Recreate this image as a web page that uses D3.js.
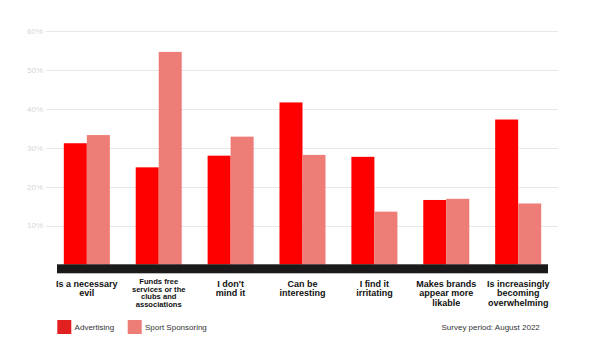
<!DOCTYPE html>
<html>
<head>
<meta charset="utf-8">
<script src="https://cdn.jsdelivr.net/npm/d3@7"></script>
<style>
  html, body { margin: 0; padding: 0; background: #fff; }
  svg { display: block; font-family: "Liberation Sans", Arial, Helvetica, sans-serif; }
</style>
</head>
<body>
<svg id="chart" width="605" height="340"></svg>
<script>
const categories = [
  ["Is a necessary", "evil"],
  ["Funds free", "services or the", "clubs and", "associations"],
  ["I don't", "mind it"],
  ["Can be", "interesting"],
  ["I find it", "irritating"],
  ["Makes brands", "appear more", "likable"],
  ["Is increasingly", "becoming", "overwhelming"]
];
const seriesNames = ["Advertising", "Sport Sponsoring"];
const advertising = [31.2, 25.0, 28.0, 41.7, 27.7, 16.6, 37.3];
const sponsoring  = [33.3, 54.7, 32.9, 28.2, 13.6, 16.9, 15.7];
const yTicks = [10, 20, 30, 40, 50, 60];
const note = "Survey period: August 2022";

const barColors = ["#ff0000", "#ee7d77"];
const legendColors = ["#e2201f", "#ee7d77"];

const svg = d3.select("#chart");
const x = d3.scaleBand().domain(d3.range(categories.length)).range([57, 548]).paddingInner(0.36).paddingOuter(0.095);
const xs = d3.scaleBand().domain([0, 1]).range([0, x.bandwidth()]);
const y = d3.scaleLinear().domain([0, 60]).range([264.5, 31.3]);

// gridlines
const grid = svg.append("g");
yTicks.forEach(t => {
  grid.append("line").attr("x1", 46).attr("x2", 558)
    .attr("y1", Math.round(y(t)) + 0.5).attr("y2", Math.round(y(t)) + 0.5)
    .attr("stroke", "#e8e8e8").attr("stroke-width", 1);
  grid.append("text").attr("x", 43).attr("y", y(t) + 2.8)
    .attr("text-anchor", "end").attr("font-size", 8).attr("fill", "#d6d6d6")
    .text(t + "%");
});

// bars
const series = [advertising, sponsoring];
series.forEach((vals, si) => {
  svg.append("g").selectAll("rect").data(vals).join("rect")
    .attr("x", (d, i) => x(i) + xs(si))
    .attr("width", xs.bandwidth())
    .attr("y", d => y(d))
    .attr("height", d => y(0) - y(d))
    .attr("fill", barColors[si]);
});

// baseline black bar
svg.append("rect").attr("x", 57).attr("y", 264.3).attr("width", 491).attr("height", 9).attr("fill", "#1a1a1a");

// category labels
categories.forEach((lines, i) => {
  const small = lines.length > 3 && i === 1;
  const fs = small ? 7.6 : 9;
  const lh = small ? 7.7 : 9.6;
  const t = svg.append("text").attr("text-anchor", "middle")
    .attr("font-weight", "bold").attr("font-size", fs).attr("fill", "#111");
  lines.forEach((ln, k) => {
    t.append("tspan").attr("x", x(i) + x.bandwidth() / 2)
      .attr("y", (small ? 283.8 : 286.5) + k * lh).text(ln);
  });
});

// legend
seriesNames.forEach((name, i) => {
  const lx = i === 0 ? 57.3 : 127.7;
  svg.append("rect").attr("x", lx).attr("y", 320).attr("width", 14).attr("height", 14).attr("fill", legendColors[i]);
  svg.append("text").attr("x", lx + 17.3).attr("y", 330).attr("font-size", 8).attr("fill", "#333").text(name);
});
svg.append("text").attr("x", 441.5).attr("y", 330).attr("font-size", 8).attr("fill", "#333").text(note);
</script>
</body>
</html>
